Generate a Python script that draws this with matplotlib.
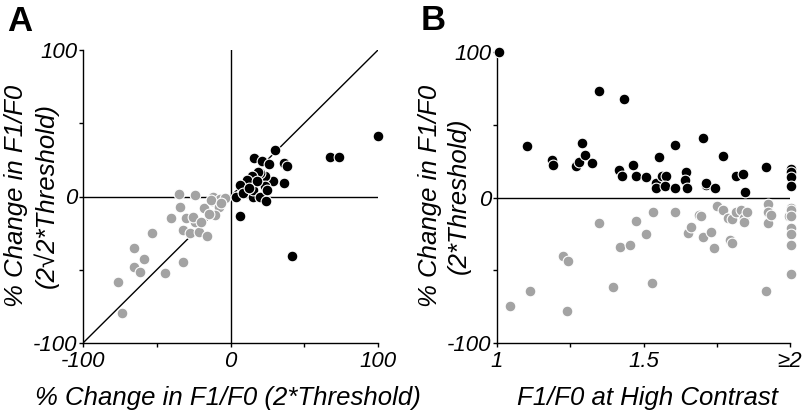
import matplotlib
matplotlib.use("Agg")
import matplotlib.pyplot as plt
import numpy as np

plt.rcParams['font.family'] = ['Liberation Sans', 'DejaVu Sans']

# Panel A: % change at 2*threshold (x) vs 2*sqrt2*threshold (y)
a_black_x = [100, 67.6, 73.7, 41.8, 6.5, 30, 16, 21.4, 26.3, 36.3, 38.1, 36.3, 28.6,
             23.2, 20.1, 18.4, 14.8, 11.2, 6.6, 3.4, 8.8, 15.4, 15.4, 20, 24.1, 23.4,
             17.8, 24.7, 12.3]
a_black_y = [41, 27.3, 27.3, -40.4, -13.2, 31.6, 26.4, 24.5, 22.3, 22.7, 20.7, 8.9, 10.7,
             14.1, 15.9, 16.4, 14.1, 11.4, 8.0, 0, 2.5, 0, 4.6, 0, -3, 6.9,
             10.3, 4.6, 5.9]
a_gray_x = [-73.5, -76.6, -65.2, -65.2, -61.3, -58.8, -53.4, -44.3, -32.5, -40.4, -35,
            -34.2, -30.1, -32.5, -27.3, -24.3, -25.2, -21.4, -16.2, -20.3, -23.9, -18.3,
            -12.8, -11.7, -7.2, -3.8, -7.8, -10.3, -14.3, -13.4, -6.3]
a_gray_y = [-79.5, -58.6, -35.2, -48.4, -51.8, -42.5, -25.0, -52.0, -44.5, -14.8, 1.6,
            -7.2, -14.8, -22.7, -25, -17.6, -14.3, -24.3, -27, -17.1, 0.7, -7.9,
            -3.4, 0, -2, -1, -7.4, -12.4, -12, -2.3, -4.5]

# Panel B: F1/F0 at high contrast (x) vs % change (y)
b_black_x = [1.006, 1.103, 1.189, 1.191, 1.269, 1.281, 1.289, 1.302, 1.323, 1.349, 1.434,
             1.417, 1.428, 1.464, 1.473, 1.51, 1.541, 1.543, 1.553, 1.564, 1.576, 1.574,
             1.607, 1.609, 1.644, 1.643, 1.65, 1.702, 1.712, 1.713, 1.744, 1.772, 1.814,
             1.84, 1.847, 1.919, 2.005, 2.005, 2.005, 2.005]
b_black_y = [100, 35.4, 25.7, 22.5, 21.4, 24.1, 37.5, 29.4, 23.7, 73.3, 67.4,
             19.1, 14.9, 22.5, 14.9, 13.8, 9.9, 6.4, 28.0, 14.5, 14.9, 7.8,
             36.3, 6.4, 17.2, 12.0, 6.2, 40.7, 8.5, 10.3, 6.2, 28.3, 14.9,
             16.1, 4.1, 20.7, 19.5, 17.2, 13.8, 7.6]
b_gray_x = [1.045, 1.111, 1.226, 1.244, 1.24, 1.347, 1.397, 1.42, 1.453, 1.473, 1.51,
            1.528, 1.534, 1.607, 1.652, 1.663, 1.691, 1.697, 1.703, 1.73, 1.741, 1.75,
            1.773, 1.789, 1.795, 1.803, 1.803, 1.814, 1.832, 1.844, 1.844, 1.852, 1.925,
            1.925, 1.925, 1.934, 1.919, 1.998, 2.005, 2.005, 2.005, 2.005, 2.005, 2.005,
            2.005]
b_gray_y = [-74.7, -64.4, -40, -43.9, -77.9, -17.7, -61.4, -33.8, -32.9, -16.1, -25.3,
            -58.6, -10.1, -10.1, -24.1, -20, -11.7, -12.9, -27.1, -23.4, -34.7, -5.5,
            -8.5, -14.3, -29.4, -31.5, -14.9, -10.1, -8.7, -13.8, -16.6, -10.1, -4.6,
            -9.7, -17.5, -12, -64.4, -12.6, -6.9, -8.7, -12.6, -21.1, -24.8, -32.4,
            -52.4]

GRAY = '#a3a3a3'
TICK_FS = 16
LAB_FS = 18.5

def style_axes(ax):
    for side in ['top', 'right']:
        ax.spines[side].set_visible(False)
    for side in ['left', 'bottom']:
        ax.spines[side].set_linewidth(1.0)
    ax.tick_params(direction='out', length=3, width=1, labelsize=TICK_FS)
    ax.tick_params(axis='y', pad=1)
    ax.tick_params(axis='x', pad=3)
    for lab in ax.get_xticklabels() + ax.get_yticklabels():
        lab.set_fontstyle('italic')

def dots(ax, x, y, color):
    ax.scatter(x, y, s=60, c=color, edgecolors='white', linewidths=0.8,
               zorder=3, clip_on=False)

fig = plt.figure(figsize=(8.02, 4.16), dpi=100)

# ---- A
axA = fig.add_axes([83/802, 73/416, 295/802, 293/416])
axA.plot([-100, 100], [-100, 100], 'k', lw=1, zorder=1)
axA.plot([0, 0], [-100, 100], 'k', lw=1, zorder=1)
axA.plot([-100, 100], [0, 0], 'k', lw=1, zorder=1)
dots(axA, a_gray_x, a_gray_y, GRAY)
dots(axA, a_black_x, a_black_y, 'black')
axA.set_xlim(-100, 100)
axA.set_ylim(-100, 100)
axA.set_xticks([-100, -50, 0, 50, 100])
axA.set_xticklabels(['-100', '', '0', '', '100'])
axA.set_yticks([-100, -50, 0, 50, 100])
axA.set_yticklabels(['-100', '', '0', '', '100'])
style_axes(axA)
fig.text(228/802, 1 - 398/416, '% Change in F1/F0 (2*Threshold)', fontsize=LAB_FS,
         style='italic', ha='center', va='center')
fig.text(31/802, 1 - 196/416, '% Change in F1/F0\n(2\u221a2*Threshold)', fontsize=LAB_FS,
         style='italic', rotation=90, ha='center', va='center', linespacing=1.25)
fig.text(7/802, 1 - 5/416, 'A', fontsize=25, fontweight='bold', va='top')

# ---- B
axB = fig.add_axes([497/802, 73/416, 293/802, 291/416])
axB.plot([1, 2], [0, 0], 'k', lw=1, zorder=1)
dots(axB, b_gray_x, b_gray_y, GRAY)
dots(axB, b_black_x, b_black_y, 'black')
axB.set_xlim(1, 2)
axB.set_ylim(-100, 100)
axB.set_xticks([1, 1.25, 1.5, 1.75, 2])
axB.set_xticklabels(['1', '', '1.5', '', '\u22652'])
axB.set_yticks([-100, -50, 0, 50, 100])
axB.set_yticklabels(['-100', '', '0', '', '100'])
style_axes(axB)
fig.text(647/802, 1 - 398/416, 'F1/F0 at High Contrast', fontsize=LAB_FS,
         style='italic', ha='center', va='center')
fig.text(444/802, 1 - 196/416, '% Change in F1/F0\n(2*Threshold)', fontsize=LAB_FS,
         style='italic', rotation=90, ha='center', va='center', linespacing=1.25)
fig.text(421/802, 1 - 4/416, 'B', fontsize=25, fontweight='bold', va='top')

fig.savefig('out.png', dpi=100)
